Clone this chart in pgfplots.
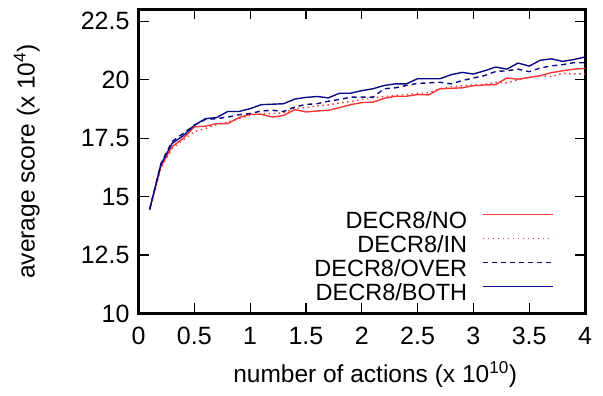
\documentclass[border=0pt]{standalone}
\usepackage{fontspec}
\setmainfont{Liberation Sans}
\usepackage{pgfplots}
\pgfplotsset{compat=1.18}
\definecolor{gpred}{RGB}{245,55,55}
\definecolor{gpblue}{RGB}{10,10,135}
\begin{document}
\begin{tikzpicture}
\path[use as bounding box] (0,0) rectangle (603bp,396bp);
\begin{axis}[
  at={(138.5bp,82.5bp)}, anchor=south west,
  scale only axis, width=446.5bp, height=304bp,
  xmin=0, xmax=4, ymin=10, ymax=23,
  xtick={0,0.5,...,4}, ytick={10,12.5,15,17.5,20,22.5},
  tick align=inside, major tick length=10bp,
  every tick/.style={black, line width=1.2bp},
  axis line style={line width=3bp},
  /pgf/number format/assume math mode=true,
  tick label style={font=\fontsize{25bp}{29bp}\selectfont},
  yticklabel style={xshift=-5.5bp},
  xticklabel style={yshift=-10bp},
  xlabel={number of actions (x 10\textsuperscript{10})},
  ylabel={average score (x 10\textsuperscript{4})},
  label style={font=\fontsize{24.5bp}{28bp}\selectfont},
  xlabel style={at={(axis description cs:0.53,-0.2)}, anchor=center},
  ylabel style={at={(axis description cs:-0.25,0.5)}, anchor=center},
  legend cell align=right,
  legend plot pos=right,
  legend style={draw=none, fill=none, at={(axis description cs:0.937,0.3421)}, anchor=north east,
    font=\fontsize{23.5bp}{27bp}\selectfont, row sep=2bp, column sep=15bp,
    nodes={inner sep=0pt, text height=17bp, text depth=5bp}},
  legend image code/.code={\draw[#1, line width=1.5bp] (0bp,8bp) -- (70bp,8bp);},
  clip=true,
]
\addplot[gpred, line width=1.4bp] coordinates {
(0.1,14.45)(0.2,16.28)(0.3,17.13)(0.4,17.49)(0.5,17.98)(0.6,18.01)(0.7,18.12)(0.8,18.12)(0.9,18.38)(1.0,18.52)
(1.1,18.52)(1.2,18.40)(1.3,18.47)(1.4,18.72)(1.5,18.62)(1.6,18.66)(1.7,18.69)(1.8,18.80)(1.9,18.93)(2.0,19.02)
(2.1,19.04)(2.2,19.20)(2.3,19.29)(2.4,19.29)(2.5,19.36)(2.6,19.35)(2.7,19.61)(2.8,19.63)(2.9,19.65)(3.0,19.74)
(3.1,19.77)(3.2,19.79)(3.3,20.07)(3.4,20.02)(3.5,20.09)(3.6,20.17)(3.7,20.30)(3.8,20.38)(3.9,20.45)(4.0,20.48)};
\addlegendentry{DECR8/NO}
\addplot[gpred, line width=1.4bp, dash pattern=on 1.5bp off 3.5bp] coordinates {
(0.1,14.45)(0.2,16.20)(0.3,17.05)(0.4,17.42)(0.5,17.77)(0.6,17.91)(0.7,18.08)(0.8,18.19)(0.9,18.33)(1.0,18.48)
(1.1,18.55)(1.2,18.55)(1.3,18.58)(1.4,18.78)(1.5,18.80)(1.6,18.88)(1.7,18.92)(1.8,19.00)(1.9,19.06)(2.0,19.15)
(2.1,19.22)(2.2,19.28)(2.3,19.32)(2.4,19.36)(2.5,19.42)(2.6,19.44)(2.7,19.61)(2.8,19.70)(2.9,19.74)(3.0,19.77)
(3.1,19.80)(3.2,19.89)(3.3,19.86)(3.4,19.99)(3.5,20.10)(3.6,20.17)(3.7,20.13)(3.8,20.27)(3.9,20.25)(4.0,20.24)};
\addlegendentry{DECR8/IN}
\addplot[gpblue, line width=1.4bp, dash pattern=on 5bp off 4bp] coordinates {
(0.1,14.45)(0.2,16.40)(0.3,17.35)(0.4,17.70)(0.5,18.05)(0.6,18.30)(0.7,18.33)(0.8,18.40)(0.9,18.50)(1.0,18.55)
(1.1,18.66)(1.2,18.69)(1.3,18.64)(1.4,18.83)(1.5,18.94)(1.6,18.97)(1.7,19.08)(1.8,19.15)(1.9,19.25)(2.0,19.25)
(2.1,19.25)(2.2,19.61)(2.3,19.65)(2.4,19.75)(2.5,19.84)(2.6,19.86)(2.7,19.89)(2.8,19.82)(2.9,19.96)(3.0,20.07)
(3.1,20.17)(3.2,20.35)(3.3,20.38)(3.4,20.45)(3.5,20.34)(3.6,20.50)(3.7,20.59)(3.8,20.64)(3.9,20.73)(4.0,20.72)};
\addlegendentry{DECR8/OVER}
\addplot[gpblue, line width=1.4bp] coordinates {
(0.1,14.45)(0.2,16.36)(0.3,17.27)(0.4,17.60)(0.5,18.05)(0.6,18.33)(0.7,18.38)(0.8,18.64)(0.9,18.64)(1.0,18.76)
(1.1,18.93)(1.2,18.95)(1.3,18.97)(1.4,19.17)(1.5,19.24)(1.6,19.28)(1.7,19.22)(1.8,19.42)(1.9,19.42)(2.0,19.53)
(2.1,19.61)(2.2,19.75)(2.3,19.82)(2.4,19.82)(2.5,20.04)(2.6,20.04)(2.7,20.04)(2.8,20.21)(2.9,20.31)(3.0,20.24)
(3.1,20.38)(3.2,20.54)(3.3,20.45)(3.4,20.71)(3.5,20.58)(3.6,20.83)(3.7,20.89)(3.8,20.78)(3.9,20.86)(4.0,20.97)};
\addlegendentry{DECR8/BOTH}
\end{axis}
\end{tikzpicture}
\end{document}
